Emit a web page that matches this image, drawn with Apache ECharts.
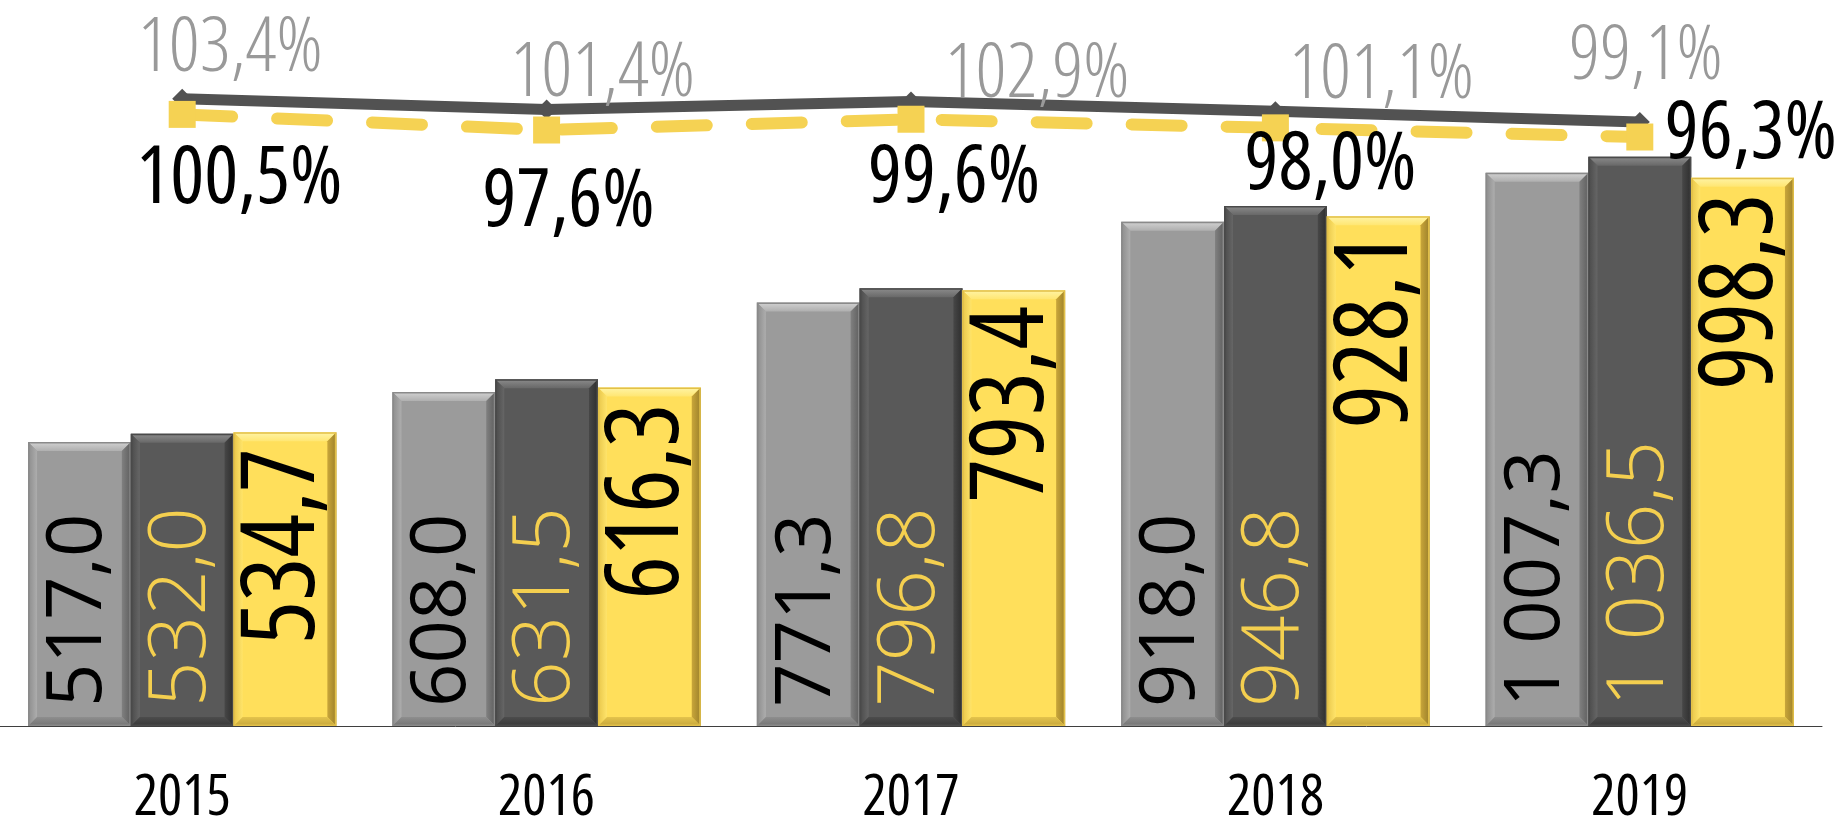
<!DOCTYPE html>
<html>
<head>
<meta charset="utf-8">
<script src="https://cdn.jsdelivr.net/npm/echarts@6.0.0/dist/echarts.min.js"></script>
<style>
html, body { margin: 0; padding: 0; background: #fff; }
#main { width: 1845px; height: 827px; }
</style>
</head>
<body>
<div id="main"></div>
<script>
var years = ['2015', '2016', '2017', '2018', '2019'];
var lightBars = [517.0, 608.0, 771.3, 918.0, 1007.3];
var darkBars = [532.0, 631.5, 796.8, 946.8, 1036.5];
var yellowBars = [534.7, 616.3, 793.4, 928.1, 998.3];
var darkLine = [103.4, 101.4, 102.9, 101.1, 99.1];
var yellowLine = [100.5, 97.6, 99.6, 98.0, 96.3];

// labels on the lines were placed by hand in the original, so nudge them (px)
var darkLineLabelShift = [[48, -49], [56, -35], [126, -26], [106, -35], [6, -65]];
var yellowLineLabelShift = [[57, 66], [22, 73], [43, 60], [55, 38], [111, -2]];

var FONT = "'Open Sans', 'Noto Sans', sans-serif";
var NARROW = 'semi-condensed';
var BAR_W = 0.282;

function fmtNum(v) {
    var parts = v.toFixed(1).split('.');
    return parts[0].replace(/\B(?=(\d{3})+(?!\d))/g, '\u00a0') + ',' + parts[1];
}
function fmtPct(v) {
    return v.toFixed(1).replace('.', ',') + '%';
}
function grad(horizontal, a, b) {
    return new echarts.graphic.LinearGradient(0, 0, horizontal ? 1 : 0, horizontal ? 0 : 1,
        [{ offset: 0, color: a }, { offset: 1, color: b }]);
}

var palettes = [
    { face: '#9B9B9B', rim: '#8A8A8A', top: ['#D2D2D2', '#AFAFAF'], left: ['#8C8C8C', '#ADADAD'],
      right: ['#808080', '#5F5F5F'], bottom: ['#8E8E8E', '#737373'] },
    { face: '#595959', rim: '#4A4A4A', top: ['#8C8C8C', '#686868'], left: ['#4A4A4A', '#666666'],
      right: ['#474747', '#2E2E2E'], bottom: ['#4C4C4C', '#383838'] },
    { face: '#FFDF5B', rim: '#E2C04A', top: ['#FFF4A6', '#FFE672'], left: ['#E8C64A', '#FFE46A'],
      right: ['#C9A63A', '#9C802A'], bottom: ['#E4C44C', '#C5A53A'] }
];

// bevelled bar, positioned the same way as the bar series below
function bevelBar(slot) {
    var pal = palettes[slot];
    return function (params, api) {
        var i = api.value(0);
        var base = api.coord([i, 0]);
        var top = api.coord([i, api.value(1)]);
        var w = api.size([1, 0])[0] * BAR_W;
        var x0 = base[0] + (slot - 1.5) * w, x1 = x0 + w;
        var y0 = top[1], y1 = base[1], b = 9;
        return {
            type: 'group',
            children: [
                { type: 'rect', shape: { x: x0, y: y0, width: w, height: y1 - y0 },
                  style: { fill: pal.face } },
                { type: 'polygon', shape: { points: [[x0, y0], [x1, y0], [x1 - b, y0 + b], [x0 + b, y0 + b]] },
                  style: { fill: grad(false, pal.top[0], pal.top[1]) } },
                { type: 'polygon', shape: { points: [[x0, y0], [x0 + b, y0 + b], [x0 + b, y1 - b], [x0, y1]] },
                  style: { fill: grad(true, pal.left[0], pal.left[1]) } },
                { type: 'polygon', shape: { points: [[x1, y0], [x1, y1], [x1 - b, y1 - b], [x1 - b, y0 + b]] },
                  style: { fill: grad(true, pal.right[0], pal.right[1]) } },
                { type: 'polygon', shape: { points: [[x0, y1], [x0 + b, y1 - b], [x1 - b, y1 - b], [x1, y1]] },
                  style: { fill: grad(false, pal.bottom[0], pal.bottom[1]) } },
                { type: 'rect', shape: { x: x0 + 0.75, y: y0 + 0.75, width: w - 1.5, height: y1 - y0 - 1.5 },
                  style: { fill: null, stroke: pal.rim, lineWidth: 1.5 } }
            ]
        };
    };
}

function bevelSeries(values, slot) {
    return {
        type: 'custom',
        renderItem: bevelBar(slot),
        data: values.map(function (v, i) { return [i, v]; }),
        z: 1,
        silent: true
    };
}

function labelBars(values, label) {
    return {
        type: 'bar',
        data: values,
        barWidth: (BAR_W * 100) + '%',
        barGap: '0%',
        itemStyle: { color: 'rgba(0,0,0,0)' },
        label: Object.assign({
            show: true,
            rotate: 90,
            verticalAlign: 'middle',
            fontFamily: FONT,
            textBorderWidth: 0,
            formatter: function (p) { return fmtNum(p.value); }
        }, label),
        z: 3,
        silent: true
    };
}

function lineData(values, shifts) {
    return values.map(function (v, i) {
        return { value: v, label: { offset: shifts[i] } };
    });
}

var myChart = echarts.init(document.getElementById('main'));
myChart.setOption({
    animation: false,
    backgroundColor: '#fff',
    grid: { left: 0, right: 23, top: 12, bottom: 101, outerBoundsMode: 'none' },
    xAxis: {
        type: 'category',
        data: years,
        axisLine: { lineStyle: { color: '#3F3F3F', width: 1 } },
        axisTick: { length: 17, lineStyle: { color: '#3F3F3F' } },
        axisLabel: { color: '#000', fontSize: 57, margin: 44, fontFamily: FONT, fontStyle: NARROW },
        splitLine: { show: false }
    },
    yAxis: [
        { type: 'value', min: 0, max: 1300, show: false },
        { type: 'value', min: -13, max: 119.5, show: false }
    ],
    series: [
        bevelSeries(lightBars, 0),
        bevelSeries(darkBars, 1),
        bevelSeries(yellowBars, 2),
        labelBars(lightBars, { position: 'insideBottom', distance: 19, align: 'left',
            fontSize: 76, color: '#000' }),
        labelBars(darkBars, { position: 'insideBottom', distance: 19, align: 'left',
            fontSize: 80, fontWeight: 300, color: '#F4CF4F' }),
        labelBars(yellowBars, { position: 'insideTop', distance: 16, align: 'right',
            fontSize: 102, fontWeight: 400, fontStyle: NARROW, color: '#000' }),
        {
            type: 'line',
            yAxisIndex: 1,
            data: lineData(darkLine, darkLineLabelShift),
            symbol: 'diamond',
            symbolSize: 20,
            itemStyle: { color: '#525252' },
            lineStyle: { color: '#525252', width: 11 },
            label: { show: true, position: 'inside', fontFamily: FONT, fontStyle: NARROW,
                fontSize: 76, fontWeight: 300, color: '#999999', textBorderWidth: 0,
                formatter: function (p) { return fmtPct(p.value); } },
            z: 4,
            silent: true
        },
        {
            type: 'line',
            yAxisIndex: 1,
            data: lineData(yellowLine, yellowLineLabelShift),
            symbol: 'rect',
            symbolSize: 27,
            itemStyle: { color: '#F5D253' },
            lineStyle: { color: '#F5D253', width: 12, type: [50, 45], cap: 'round' },
            label: { show: true, position: 'inside', fontFamily: FONT, fontStyle: NARROW,
                fontSize: 80, color: '#000', textBorderWidth: 0,
                formatter: function (p) { return fmtPct(p.value); } },
            z: 5,
            silent: true
        }
    ]
});
</script>
</body>
</html>
